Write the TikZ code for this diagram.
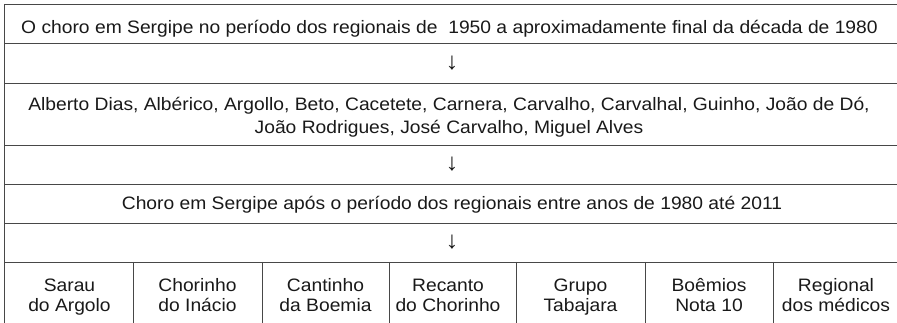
\documentclass[tikz,border=0pt]{standalone}
\usepackage{fontspec}
\setmainfont{Liberation Sans}[FakeStretch=1.07]
\begin{document}
\begin{tikzpicture}[x=1pt,y=1pt,
  rule/.style={draw=black!72, line width=0.9pt},
  celltext/.style={font=\fontsize{18}{23}\selectfont, align=center, inner sep=0pt, text=black!90},
  smallcell/.style={font=\fontsize{18}{20}\selectfont, align=center, inner sep=0pt, text=black!90},
  arrowtext/.style={font=\fontsize{24}{24}\selectfont, inner sep=0pt, text=black!90}]
\useasboundingbox (0,0) rectangle (897,323);
% horizontal rules
\foreach \y in {319,280,240,178,139,100,61}
  \draw[rule] (4.5,\y) -- (897,\y);
\draw[rule] (4.5,319) -- (4.5,0);
\foreach \x in {133,262,389,516,645,773}
  \draw[rule] (\x,61) -- (\x,0);
% texts
\node[celltext] (t1) at (449.5,294.3) {\strut O choro em Sergipe no período dos regionais de \ 1950 a aproximadamente final da década de 1980\strut};
\node[arrowtext] (a1) at (452,259.7) {↓};
\node[celltext] (t2) at (449,205.4) {\strut Alberto Dias, Albérico, Argollo, Beto, Cacetete, Carnera, Carvalho, Carvalhal, Guinho, João de Dó,\\João Rodrigues, José Carvalho, Miguel Alves\strut};
\node[arrowtext] (a2) at (452,158.5) {↓};
\node[celltext] (t3) at (452,117.6) {\strut Choro em Sergipe após o período dos regionais entre anos de 1980 até 2011\strut};
\node[arrowtext] (a3) at (452,80.5) {↓};
\node[smallcell] (c1) at (69.5,25.3) {\strut Sarau\\do Argolo\strut};
\node[smallcell] (c2) at (197.5,25.3) {\strut Chorinho\\do Inácio\strut};
\node[smallcell] (c3) at (325.5,25.3) {\strut Cantinho\\da Boemia\strut};
\node[smallcell] (c4) at (448,25.3) {\strut Recanto\\do Chorinho\strut};
\node[smallcell] (c5) at (580.5,25.3) {\strut Grupo\\Tabajara\strut};
\node[smallcell] (c6) at (709,25.3) {\strut Boêmios\\Nota 10\strut};
\node[smallcell] (c7) at (836,25.3) {\strut Regional\\dos médicos\strut};
\end{tikzpicture}
\end{document}
